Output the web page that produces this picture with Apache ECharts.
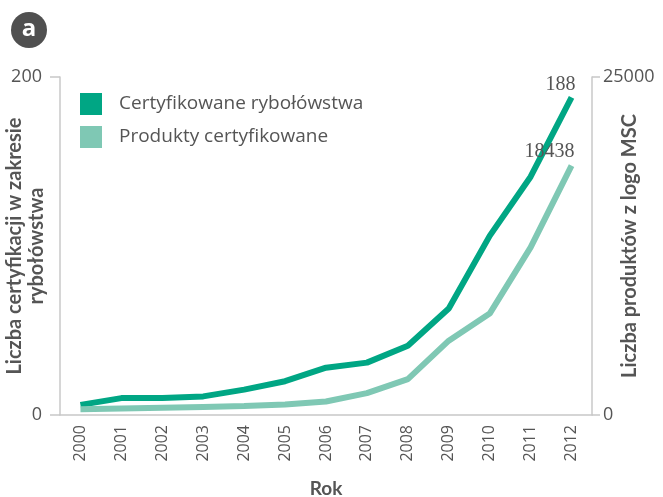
<!DOCTYPE html>
<html>
<head>
<meta charset="utf-8">
<script src="https://cdn.jsdelivr.net/npm/echarts@6/dist/echarts.min.js"></script>
<style>
  html, body { margin: 0; padding: 0; background: #fff; }
  #chart { width: 663px; height: 497px; }
</style>
</head>
<body>
<div id="chart"></div>
<script>
// lata i wartości
var years = ["2000", "2001", "2002", "2003", "2004", "2005", "2006",
             "2007", "2008", "2009", "2010", "2011", "2012"];
var fisheries = [6, 10, 10, 11, 15, 20, 28, 31, 41, 63, 106, 141, 188];
var products = [420, 480, 540, 600, 660, 780, 1000, 1620, 2650, 5500, 7500, 12400, 18438];
var leftTicks = [0, 200];
var rightTicks = [0, 25000];

var darkGreen = "#00a684";
var lightGreen = "#7fc8b4";
var textGray = "#555";

var chart = echarts.init(document.getElementById("chart"));

// etykieta tylko przy ostatnim punkcie
function withEndLabel(values, offset) {
  return values.map(function (v, i) {
    if (i !== values.length - 1) return v;
    return {
      value: v,
      label: {
        show: true,
        position: "top",
        offset: offset,
        fontFamily: "Liberation Serif",
        fontSize: 20,
        color: textGray,
        formatter: "{c}"
      }
    };
  });
}

var option = {
  animation: false,
  textStyle: { fontFamily: "Open Sans" },
  grid: { left: 60, right: 71, top: 77, bottom: 82, outerBoundsMode: "none" },
  graphic: [
    { type: "circle", shape: { cx: 29, cy: 30, r: 18 }, style: { fill: "#505050" } },
    {
      type: "text", x: 29, y: 29,
      style: {
        text: "a", fill: "#fff", font: "bold 24px Open Sans",
        align: "center", verticalAlign: "middle"
      }
    }
  ],
  legend: {
    left: 80, top: 93, orient: "vertical", padding: 0,
    itemWidth: 22, itemHeight: 22, itemGap: 11,
    icon: "rect",
    textStyle: { fontSize: 19, color: textGray, padding: [0, 0, 0, 12] },
    data: ["Certyfikowane rybołówstwa", "Produkty certyfikowane"]
  },
  xAxis: {
    type: "category",
    data: years,
    name: "Rok",
    nameLocation: "middle",
    nameGap: 64,
    nameMoveOverlap: false,
    nameTextStyle: { fontSize: 19, fontWeight: "bold", color: textGray, fontFamily: "Lato" },
    axisLine: { lineStyle: { color: "#c8c8c8", width: 1.5 } },
    axisTick: { length: 10, lineStyle: { color: "#c8c8c8", width: 1.5 } },
    axisLabel: { rotate: 90, fontSize: 16, color: textGray, margin: 10 }
  },
  yAxis: [
    {
      type: "value", min: 0, max: 200, interval: 200,
      name: "Liczba certyfikacji w zakresie\nrybołówstwa",
      nameLocation: "middle", nameGap: 12,
      nameMoveOverlap: false,
      nameTextStyle: { fontSize: 20, fontWeight: "bold", color: textGray, lineHeight: 22, fontFamily: "Lato" },
      splitLine: { show: false },
      axisLine: { show: true, lineStyle: { color: "#c8c8c8", width: 1.5 } },
      axisTick: { show: true, length: 10, lineStyle: { color: "#c8c8c8", width: 1.5 } },
      axisLabel: {
        fontSize: 18, color: textGray, margin: 18,
        customValues: leftTicks
      }
    },
    {
      type: "value", min: 0, max: 25000, interval: 25000,
      name: "Liczba produktów z logo MSC",
      nameLocation: "middle", nameGap: 28,
      nameMoveOverlap: false,
      nameTextStyle: { fontSize: 20, fontWeight: "bold", color: textGray, fontFamily: "Lato" },
      position: "right",
      splitLine: { show: false },
      axisLine: { show: true, lineStyle: { color: "#c8c8c8", width: 1.5 } },
      axisTick: { show: true, length: 8, lineStyle: { color: "#c8c8c8", width: 1.5 } },
      axisLabel: {
        fontSize: 18, color: textGray, margin: 11,
        customValues: rightTicks,
        formatter: function (v) { return String(v); }
      }
    }
  ],
  series: [
    {
      name: "Certyfikowane rybołówstwa",
      type: "line",
      yAxisIndex: 0,
      data: withEndLabel(fisheries, [-11, 2]),
      symbol: "circle",
      symbolSize: 0,
      itemStyle: { color: darkGreen },
      lineStyle: { color: darkGreen, width: 6 }
    },
    {
      name: "Produkty certyfikowane",
      type: "line",
      yAxisIndex: 1,
      data: withEndLabel(products, [-22, 1]),
      symbol: "circle",
      symbolSize: 0,
      itemStyle: { color: lightGreen },
      lineStyle: { color: lightGreen, width: 6 }
    }
  ]
};

chart.setOption(option);
</script>
</body>
</html>
